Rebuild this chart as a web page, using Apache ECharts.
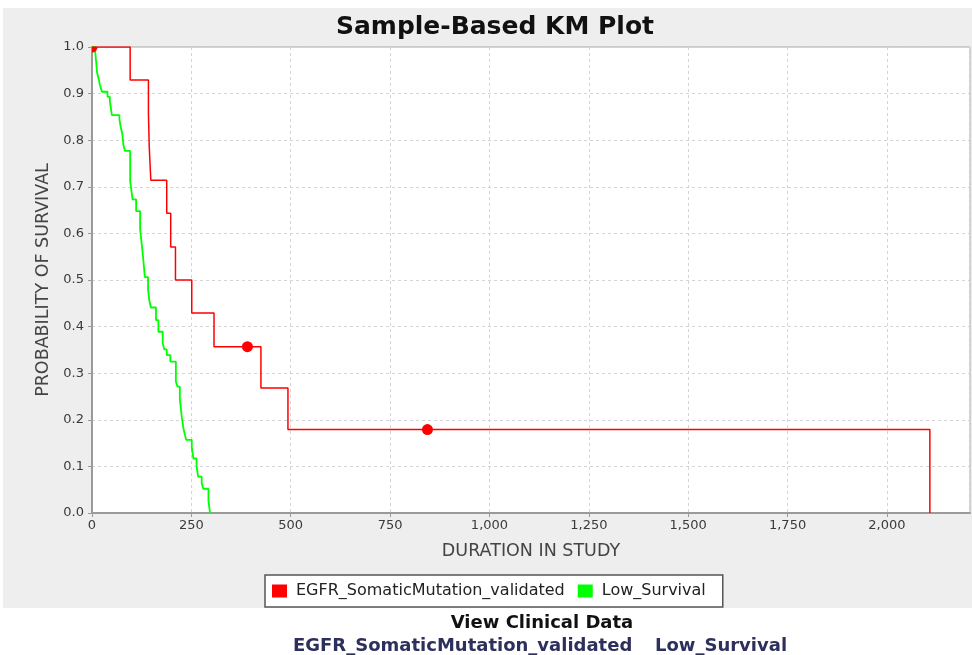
<!DOCTYPE html>
<html>
<head>
<meta charset="utf-8">
<script src="https://cdn.jsdelivr.net/npm/echarts@6/dist/echarts.min.js"></script>
<style>
  html, body { margin: 0; padding: 0; background: #ffffff; }
  #chart { width: 972px; height: 655px; }
</style>
</head>
<body>
<div id="chart"></div>
<script>
// Kaplan-Meier survival curves: time in study vs. probability of survival
const seriesNames = ['EGFR_SomaticMutation_validated', 'Low_Survival'];

// EGFR group: event times and survival after each event
const egfrTimes    = [0, 96, 142, 144, 148, 188, 198, 210, 251, 307, 425, 493, 2108];
const egfrSurvival = [1.0, 0.929, 0.857, 0.786, 0.714, 0.643, 0.571, 0.5, 0.429, 0.357, 0.268, 0.179, 0.0];
// EGFR group: censored observations
const egfrCensorTimes    = [0, 391, 844];
const egfrCensorSurvival = [1.0, 0.357, 0.179];

// Low survival group: event times and survival after each event
const lowTimes = [0, 8, 13, 17, 20, 25, 39, 45, 50, 69, 72, 76, 79, 83, 96, 98, 102, 111, 121, 126,
  129, 133, 141, 144, 148, 161, 167, 178, 182, 188, 197, 211, 215, 221, 226, 230, 234, 237,
  251, 255, 263, 267, 276, 280, 293, 297];
const lowSurvival = [1.0, 0.99, 0.944, 0.931, 0.918, 0.904, 0.893, 0.883, 0.854, 0.845, 0.829, 0.815,
  0.790, 0.777, 0.711, 0.700, 0.673, 0.648, 0.609, 0.570, 0.544, 0.506, 0.480, 0.457, 0.441,
  0.414, 0.389, 0.364, 0.351, 0.339, 0.325, 0.282, 0.271, 0.244, 0.205, 0.182, 0.167, 0.157,
  0.141, 0.117, 0.101, 0.078, 0.064, 0.052, 0.026, 0.0];

// Axis settings
const xMax = 2209;
const xInterval = 250;
const yInterval = 0.1;

const FONT = 'DejaVu Sans';
const pairs = (xs, ys) => xs.map((x, i) => [x, ys[i]]);

const chart = echarts.init(document.getElementById('chart'), null, { renderer: 'canvas' });

chart.setOption({
  animation: false,
  backgroundColor: '#ffffff',
  grid: {
    left: 92, top: 47, width: 878, height: 466,
    show: true, backgroundColor: '#ffffff', borderColor: '#a8a8a8', borderWidth: 1
  },
  xAxis: {
    type: 'value', min: 0, max: xMax, interval: xInterval,
    name: 'DURATION IN STUDY', nameLocation: 'middle', nameGap: 29,
    nameTextStyle: { fontFamily: FONT, fontSize: 17.5, color: '#444' },
    axisLine: { show: true, lineStyle: { color: '#9a9a9a', width: 2 } },
    axisTick: { show: true, length: 4, lineStyle: { color: '#9a9a9a' } },
    axisLabel: {
      showMaxLabel: false, margin: 6,
      fontFamily: FONT, fontSize: 13, color: '#3a3a3a',
      formatter: v => v.toLocaleString('en-US')
    },
    splitLine: { show: true, lineStyle: { color: '#d4d4d4', type: [3, 3] } }
  },
  yAxis: {
    type: 'value', min: 0, max: 1, interval: yInterval,
    name: 'PROBABILITY OF SURVIVAL', nameLocation: 'middle', nameGap: 40,
    nameTextStyle: { fontFamily: FONT, fontSize: 17.5, color: '#444' },
    axisLine: { show: true, lineStyle: { color: '#9a9a9a', width: 2 } },
    axisTick: { show: true, length: 4, lineStyle: { color: '#9a9a9a' } },
    axisLabel: {
      margin: 8, fontFamily: FONT, fontSize: 13, color: '#3a3a3a',
      formatter: v => v.toFixed(1)
    },
    splitLine: { show: true, lineStyle: { color: '#d4d4d4', type: [3, 3] } }
  },
  legend: {
    data: [
      { name: seriesNames[0], icon: 'rect' },
      { name: seriesNames[1], icon: 'rect' }
    ],
    left: 265, top: 575,
    itemWidth: 15, itemHeight: 13, itemGap: 13,
    padding: [8, 17, 8, 7],
    borderColor: '#555', borderWidth: 1.5, backgroundColor: '#ffffff',
    textStyle: { fontFamily: FONT, fontSize: 16, color: '#222', padding: [0, 0, 0, 4] }
  },
  graphic: [
    { type: 'rect', z: -10, silent: true,
      shape: { x: 3, y: 8, width: 969, height: 600 }, style: { fill: '#eeeeee' } },
    { type: 'text', x: 495, y: 27, style: {
        text: 'Sample-Based KM Plot', fill: '#111', fontFamily: FONT, fontWeight: 'bold', fontSize: 25,
        textAlign: 'center', textVerticalAlign: 'middle' } },
    { type: 'text', x: 542, y: 623, style: {
        text: 'View Clinical Data', fill: '#111', fontFamily: FONT, fontWeight: 'bold', fontSize: 18,
        textAlign: 'center', textVerticalAlign: 'middle' } },
    { type: 'text', x: 293, y: 646, style: {
        text: seriesNames[0], fill: '#2d2f5c', fontFamily: FONT, fontWeight: 'bold', fontSize: 18,
        textAlign: 'left', textVerticalAlign: 'middle' } },
    { type: 'text', x: 655, y: 646, style: {
        text: seriesNames[1], fill: '#2d2f5c', fontFamily: FONT, fontWeight: 'bold', fontSize: 18,
        textAlign: 'left', textVerticalAlign: 'middle' } }
  ],
  series: [
    {
      name: seriesNames[0], type: 'line', step: 'end', showSymbol: false,
      data: pairs(egfrTimes, egfrSurvival),
      itemStyle: { color: '#ff0000' },
      lineStyle: { color: '#ff0000', width: 1.5 }, z: 3
    },
    {
      name: seriesNames[1], type: 'line', step: 'end', showSymbol: false,
      data: pairs(lowTimes, lowSurvival),
      itemStyle: { color: '#00ff00' },
      lineStyle: { color: '#00ff00', width: 1.8 }, z: 2
    },
    {
      // censor marks, clipped to the plotting area
      name: seriesNames[0], type: 'custom',
      data: pairs(egfrCensorTimes, egfrCensorSurvival),
      renderItem: (params, api) => {
        const p = api.coord([api.value(0), api.value(1)]);
        const cs = params.coordSys;
        return {
          type: 'circle',
          shape: { cx: p[0], cy: p[1], r: 5.5 },
          style: { fill: '#ff0000' },
          clipPath: { type: 'rect', shape: { x: cs.x, y: cs.y, width: cs.width, height: cs.height } }
        };
      },
      z: 5
    }
  ]
});
</script>
</body>
</html>
